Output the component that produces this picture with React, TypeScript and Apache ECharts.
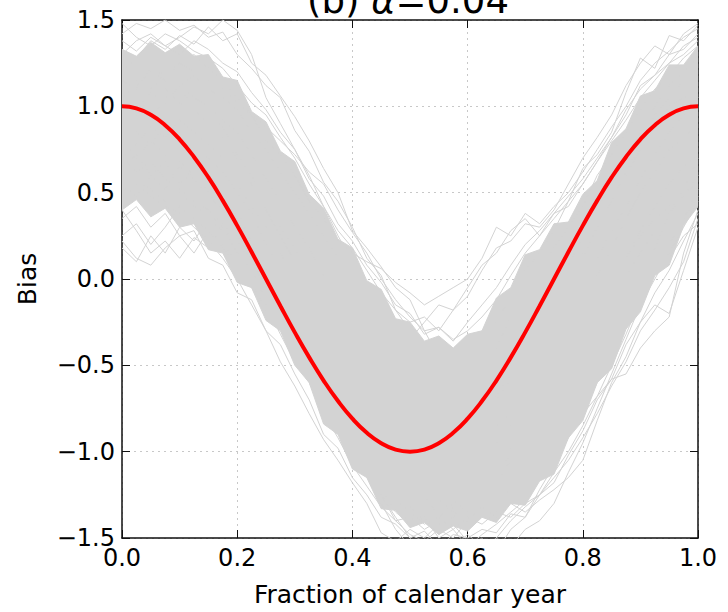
import React, { useEffect, useRef } from "react";
import * as echarts from "echarts";

// x positions shared by all curves (fraction of calendar year)
const xs = [0, 0.025, 0.05, 0.075, 0.1, 0.125, 0.15, 0.175, 0.2, 0.225, 0.25, 0.275, 0.3, 0.325, 0.35, 0.375, 0.4, 0.425, 0.45, 0.475, 0.5, 0.525, 0.55, 0.575, 0.6, 0.625, 0.65, 0.675, 0.7, 0.725, 0.75, 0.775, 0.8, 0.825, 0.85, 0.875, 0.9, 0.925, 0.95, 0.975, 1.0];

// true bias curve (red)
const trueBias = [1.0, 0.988, 0.951, 0.891, 0.809, 0.707, 0.588, 0.454, 0.309, 0.156, 0.0, -0.156, -0.309, -0.454, -0.588, -0.707, -0.809, -0.891, -0.951, -0.988, -1.0, -0.988, -0.951, -0.891, -0.809, -0.707, -0.588, -0.454, -0.309, -0.156, 0.0, 0.156, 0.309, 0.454, 0.588, 0.707, 0.809, 0.891, 0.951, 0.988, 1.0];

// dense envelope of the simulated curves
const bandLower = [0.40, 0.46, 0.36, 0.41, 0.30, 0.32, 0.17, 0.15, -0.02, -0.05, -0.24, -0.30, -0.50, -0.60, -0.84, -0.90, -1.10, -1.15, -1.33, -1.34, -1.44, -1.41, -1.48, -1.43, -1.46, -1.38, -1.41, -1.30, -1.31, -1.17, -1.13, -0.92, -0.82, -0.60, -0.52, -0.29, -0.19, 0.02, 0.08, 0.31, 0.42];
const bandUpper = [1.33, 1.29, 1.37, 1.31, 1.36, 1.29, 1.30, 1.17, 1.15, 0.97, 0.91, 0.74, 0.68, 0.49, 0.41, 0.23, 0.18, -0.01, -0.06, -0.23, -0.25, -0.36, -0.33, -0.40, -0.32, -0.30, -0.11, -0.05, 0.14, 0.17, 0.32, 0.33, 0.49, 0.57, 0.79, 0.87, 1.06, 1.09, 1.24, 1.24, 1.35];

// individual simulated curves
const simA = [1.42, 1.48, 1.45, 1.50, 1.44, 1.47, 1.40, 1.43, 1.30, 1.22, 1.12, 1.05, 0.86, 0.74, 0.56, 0.45, 0.30, 0.12, 0.02, -0.18, -0.30, -0.42, -0.50, -0.62, -0.55, -0.48, -0.40, -0.22, -0.10, 0.05, 0.18, 0.30, 0.42, 0.60, 0.72, 0.85, 0.98, 1.10, 1.18, 1.28, 1.35];
const simB = [1.20, 1.28, 1.38, 1.33, 1.41, 1.36, 1.46, 1.38, 1.42, 1.25, 1.18, 1.06, 0.94, 0.80, 0.64, 0.50, 0.28, 0.18, 0.07, -0.05, -0.12, -0.30, -0.45, -0.52, -0.60, -0.70, -0.62, -0.55, -0.40, -0.30, -0.15, -0.05, 0.12, 0.30, 0.45, 0.62, 0.78, 0.95, 1.05, 1.15, 1.22];
const simC = [0.18, 0.10, 0.25, 0.15, 0.30, 0.22, 0.35, 0.28, 0.40, 0.20, 0.05, -0.10, -0.20, -0.42, -0.58, -0.75, -0.88, -1.02, -1.18, -1.22, -1.30, -1.25, -1.38, -1.30, -1.22, -1.15, -1.05, -0.98, -0.85, -0.72, -0.60, -0.48, -0.30, -0.18, -0.02, 0.12, 0.25, 0.35, 0.42, 0.50, 0.55];
const simD = [0.40, 0.28, 0.15, 0.22, 0.12, 0.24, 0.18, 0.30, 0.20, 0.12, -0.05, -0.22, -0.40, -0.55, -0.70, -0.88, -1.00, -1.15, -1.25, -1.40, -1.48, -1.52, -1.45, -1.50, -1.40, -1.32, -1.25, -1.30, -1.20, -1.10, -0.95, -0.82, -0.65, -0.50, -0.35, -0.22, -0.10, 0.05, 0.20, 0.35, 0.48];
const simE = [0.80, 0.85, 0.78, 0.90, 0.82, 0.75, 0.70, 0.62, 0.50, 0.38, 0.20, 0.05, -0.15, -0.35, -0.55, -0.75, -0.98, -1.12, -1.30, -1.45, -1.55, -1.62, -1.58, -1.65, -1.55, -1.50, -1.58, -1.45, -1.38, -1.22, -1.08, -0.92, -0.78, -0.60, -0.42, -0.20, 0.00, 0.18, 0.38, 0.52, 0.70];
const simF = [0.65, 0.72, 0.60, 0.68, 0.55, 0.62, 0.50, 0.40, 0.32, 0.20, 0.05, -0.10, -0.28, -0.42, -0.60, -0.72, -0.88, -0.98, -1.10, -1.18, -1.25, -1.32, -1.28, -1.35, -1.40, -1.32, -1.38, -1.30, -1.35, -1.28, -1.22, -1.15, -1.05, -0.82, -0.60, -0.45, -0.25, -0.15, -0.20, 0.05, 0.30];
const simG = [1.05, 1.12, 1.20, 1.15, 1.25, 1.30, 1.22, 1.15, 1.05, 0.95, 0.80, 0.72, 0.60, 0.45, 0.35, 0.22, 0.15, 0.10, 0.06, -0.02, -0.08, -0.15, -0.10, -0.05, 0.00, 0.12, 0.30, 0.25, 0.38, 0.32, 0.42, 0.50, 0.62, 0.75, 0.88, 1.00, 1.15, 1.25, 1.32, 1.40, 1.45];
const simH = [0.95, 1.02, 0.92, 1.05, 1.10, 1.00, 0.95, 0.88, 0.72, 0.60, 0.45, 0.30, 0.18, 0.02, -0.12, -0.25, -0.38, -0.50, -0.62, -0.70, -0.78, -0.72, -0.65, -0.60, -0.50, -0.38, -0.25, -0.10, 0.05, 0.15, 0.28, 0.45, 0.64, 0.72, 0.85, 1.08, 1.28, 1.22, 1.41, 1.38, 1.47];
const simI = [0.55, 0.48, 0.60, 0.52, 0.65, 0.58, 0.48, 0.40, 0.25, 0.12, -0.02, -0.18, -0.32, -0.50, -0.65, -0.78, -0.92, -1.05, -1.15, -1.22, -1.32, -1.40, -1.48, -1.42, -1.52, -1.58, -1.50, -1.55, -1.45, -1.40, -1.30, -1.12, -0.95, -0.75, -0.55, -0.35, -0.15, 0.00, 0.15, 0.30, 0.45];
const simJ = [1.30, 1.38, 1.42, 1.35, 1.40, 1.46, 1.42, 1.50, 1.44, 1.30, 1.05, 0.90, 0.75, 0.60, 0.42, 0.25, 0.10, -0.05, -0.20, -0.35, -0.48, -0.58, -0.65, -0.72, -0.80, -0.75, -0.68, -0.55, -0.42, -0.25, -0.10, 0.08, 0.25, 0.40, 0.55, 0.70, 0.85, 1.00, 1.12, 1.20, 1.28];
const simK = [0.60, 0.55, 0.48, 0.42, 0.38, 0.30, 0.22, 0.12, 0.00, -0.15, -0.30, -0.48, -0.62, -0.78, -0.93, -1.05, -1.18, -1.30, -1.47, -1.52, -1.45, -1.50, -1.42, -1.38, -1.30, -1.22, -1.18, -1.05, -0.95, -0.80, -0.68, -0.52, -0.38, -0.20, -0.05, 0.12, 0.28, 0.42, 0.55, 0.65, 0.72];
const simL = [0.75, 0.70, 0.80, 0.72, 0.68, 0.60, 0.55, 0.45, 0.35, 0.22, 0.08, -0.08, -0.22, -0.38, -0.52, -0.68, -0.80, -0.92, -1.02, -1.10, -1.18, -1.25, -1.30, -1.28, -1.35, -1.30, -1.28, -1.22, -1.18, -1.10, -1.02, -0.90, -0.78, -0.68, -0.58, -0.55, -0.40, -0.30, -0.22, 0.15, 0.40];
const simM = [1.00, 0.95, 1.05, 1.10, 1.02, 0.98, 0.90, 0.82, 0.70, 0.55, 0.40, 0.25, 0.10, -0.08, -0.25, -0.40, -0.55, -0.68, -0.80, -0.90, -0.98, -1.02, -1.00, -0.95, -0.88, -0.80, -0.70, -0.58, -0.45, -0.32, -0.15, 0.00, 0.15, 0.30, 0.45, 0.60, 0.75, 0.90, 1.00, 1.05, 1.10];
const simN = [1.15, 1.10, 1.22, 1.18, 1.25, 1.20, 1.15, 1.10, 1.02, 0.95, 0.88, 0.80, 0.72, 0.62, 0.55, 0.40, 0.27, 0.15, 0.00, -0.12, -0.22, -0.30, -0.28, -0.35, -0.30, -0.22, -0.12, 0.02, 0.15, 0.25, 0.35, 0.45, 0.55, 0.68, 0.80, 0.92, 1.05, 1.15, 1.25, 1.30, 1.38];
const simO = [1.38, 1.32, 1.40, 1.35, 1.30, 1.38, 1.33, 1.25, 1.20, 1.08, 0.98, 0.85, 0.75, 0.58, 0.48, 0.32, 0.22, 0.08, -0.02, -0.15, -0.20, -0.32, -0.28, -0.36, -0.25, -0.15, -0.05, 0.08, 0.20, 0.28, 0.38, 0.42, 0.55, 0.68, 0.82, 0.95, 1.12, 1.18, 1.30, 1.33, 1.42];
const simP = [0.35, 0.42, 0.30, 0.38, 0.25, 0.28, 0.12, 0.08, -0.08, -0.12, -0.30, -0.38, -0.55, -0.70, -0.90, -0.98, -1.15, -1.25, -1.38, -1.42, -1.50, -1.46, -1.55, -1.48, -1.50, -1.45, -1.47, -1.36, -1.38, -1.25, -1.18, -1.02, -0.88, -0.70, -0.58, -0.38, -0.25, -0.08, 0.05, 0.22, 0.38];
const simQ = [0.25, 0.32, 0.20, 0.30, 0.42, 0.35, 0.28, 0.18, 0.08, -0.02, -0.18, -0.25, -0.45, -0.52, -0.72, -0.85, -0.95, -1.10, -1.22, -1.35, -1.42, -1.38, -1.50, -1.45, -1.55, -1.48, -1.42, -1.35, -1.28, -1.15, -1.00, -0.90, -0.72, -0.55, -0.40, -0.28, -0.12, 0.05, 0.12, 0.25, 0.32];
const simR = [1.48, 1.40, 1.35, 1.42, 1.38, 1.32, 1.28, 1.22, 1.12, 1.02, 0.95, 0.82, 0.70, 0.55, 0.42, 0.28, 0.18, 0.05, -0.08, -0.18, -0.25, -0.22, -0.30, -0.18, -0.10, 0.05, 0.18, 0.22, 0.32, 0.30, 0.40, 0.55, 0.70, 0.82, 0.95, 1.12, 1.25, 1.35, 1.30, 1.42, 1.48];
const simS = [0.70, 0.78, 0.88, 0.82, 0.92, 0.85, 0.78, 0.70, 0.55, 0.42, 0.30, 0.15, 0.00, -0.18, -0.32, -0.50, -0.62, -0.78, -0.90, -1.02, -1.12, -1.18, -1.15, -1.22, -1.10, -1.05, -0.95, -0.85, -0.72, -0.58, -0.42, -0.28, -0.12, 0.02, 0.18, 0.35, 0.50, 0.62, 0.75, 0.82, 0.90];
const simT = [0.50, 0.58, 0.52, 0.45, 0.50, 0.42, 0.38, 0.30, 0.15, 0.05, -0.12, -0.25, -0.40, -0.55, -0.72, -0.85, -0.98, -1.08, -1.20, -1.28, -1.35, -1.42, -1.38, -1.45, -1.38, -1.42, -1.35, -1.38, -1.30, -1.25, -1.15, -1.05, -0.92, -0.78, -0.62, -0.48, -0.30, -0.18, -0.05, 0.10, 0.35];
const simU = [0.90, 0.98, 1.08, 1.02, 1.12, 1.18, 1.10, 1.05, 0.98, 0.85, 0.75, 0.62, 0.50, 0.38, 0.25, 0.12, 0.00, -0.12, -0.22, -0.30, -0.35, -0.25, -0.15, -0.18, -0.05, 0.08, 0.15, 0.28, 0.35, 0.25, 0.38, 0.48, 0.58, 0.70, 0.82, 0.98, 1.10, 1.18, 1.25, 1.35, 1.40];
const simV = [0.22, 0.12, 0.08, 0.18, 0.25, 0.15, 0.28, 0.20, 0.10, -0.05, -0.15, -0.32, -0.48, -0.60, -0.78, -0.92, -1.08, -1.20, -1.32, -1.40, -1.38, -1.45, -1.40, -1.32, -1.28, -1.20, -1.12, -1.02, -0.92, -0.80, -0.65, -0.52, -0.40, -0.25, -0.12, 0.02, 0.15, 0.28, 0.38, 0.48, 0.60];
const simW = [1.20, 1.15, 1.10, 1.18, 1.12, 1.05, 1.00, 0.92, 0.85, 0.72, 0.58, 0.45, 0.30, 0.18, 0.02, -0.12, -0.28, -0.40, -0.55, -0.65, -0.72, -0.80, -0.85, -0.90, -0.95, -0.92, -0.85, -0.78, -0.65, -0.50, -0.38, -0.20, -0.05, 0.12, 0.28, 0.42, 0.58, 0.72, 0.85, 0.95, 1.05];
const simX = [0.70, 0.62, 0.68, 0.58, 0.52, 0.45, 0.40, 0.32, 0.22, 0.10, -0.05, -0.20, -0.35, -0.52, -0.68, -0.82, -0.95, -1.10, -1.25, -1.38, -1.50, -1.58, -1.62, -1.55, -1.48, -1.55, -1.50, -1.40, -1.32, -1.25, -1.12, -1.00, -0.85, -0.68, -0.50, -0.32, -0.12, 0.05, 0.20, 0.35, 0.52];

const simulations = [simA, simB, simC, simD, simE, simF, simG, simH, simI, simJ, simK, simL, simM, simN, simO, simP, simQ, simR, simS, simT, simU, simV, simW, simX];

const FONT = "DejaVu Sans";
const GRAY = "#d3d3d3";

const fmtY = (v: number) => v.toFixed(1).replace("-", "\u2212");
const fmtX = (v: number) => v.toFixed(1);

export default function App() {
  const ref = useRef<HTMLDivElement>(null);

  useEffect(() => {
    if (!ref.current) return;
    const chart = echarts.init(ref.current, undefined, { renderer: "svg" });

    const pair = (ys: number[]) => xs.map((x, i) => [x, ys[i]]);

    const commonX = { type: "value" as const, min: 0, max: 1, interval: 0.2 };
    const commonY = { type: "value" as const, min: -1.5, max: 1.5, interval: 0.5 };
    const spine = { show: true, onZero: false, lineStyle: { color: "#111", width: 1.5 } };
    const ticks = { show: true, inside: true, length: 8, lineStyle: { color: "#111", width: 1 } };
    const grid = { show: true, lineStyle: { color: "#c8c8c8", type: [2, 4], width: 1 } };

    const option: any = {
      animation: false,
      backgroundColor: "#ffffff",
      grid: { left: 122, right: 30, top: 20, bottom: 74, containLabel: false },
      graphic: [
        {
          type: "text",
          x: 408,
          y: 0,
          style: {
            text: "(b) {i|\u03b1}=0.04",
            fontFamily: FONT,
            fontSize: 37,
            fill: "#000",
            textAlign: "center",
            textVerticalAlign: "middle",
            rich: {
              i: { fontFamily: FONT, fontSize: 37, fontStyle: "italic", fill: "#000" },
            },
          },
          z: 100,
        },
      ],
      xAxis: [
        {
          ...commonX,
          position: "bottom",
          name: "Fraction of calendar year",
          nameLocation: "middle",
          nameGap: 44,
          nameTextStyle: { fontFamily: FONT, fontSize: 25, color: "#000" },
          axisLine: spine,
          axisTick: ticks,
          axisLabel: { formatter: fmtX, fontFamily: FONT, fontSize: 24, color: "#000", margin: 8, showMinLabel: true, showMaxLabel: true },
          splitLine: grid,
        },
        {
          ...commonX,
          position: "top",
          axisLine: spine,
          axisTick: ticks,
          axisLabel: { show: false },
          splitLine: { show: false },
        },
      ],
      yAxis: [
        {
          ...commonY,
          position: "left",
          name: "Bias",
          nameLocation: "middle",
          nameGap: 82,
          nameTextStyle: { fontFamily: FONT, fontSize: 25, color: "#000" },
          axisLine: spine,
          axisTick: ticks,
          axisLabel: { formatter: fmtY, fontFamily: FONT, fontSize: 24, color: "#000", margin: 7, showMinLabel: true, showMaxLabel: true },
          splitLine: grid,
        },
        {
          ...commonY,
          position: "right",
          axisLine: spine,
          axisTick: ticks,
          axisLabel: { show: false },
          splitLine: { show: false },
        },
      ],
      series: [
        {
          type: "custom",
          name: "envelope",
          xAxisIndex: 0,
          yAxisIndex: 0,
          silent: true,
          clip: true,
          z: 1,
          data: [[0, 0]],
          renderItem: (_params: any, api: any) => {
            const pts: number[][] = [];
            for (let i = 0; i < xs.length; i++) pts.push(api.coord([xs[i], bandUpper[i]]));
            for (let i = xs.length - 1; i >= 0; i--) pts.push(api.coord([xs[i], bandLower[i]]));
            return {
              type: "polygon",
              shape: { points: pts },
              style: { fill: GRAY, stroke: GRAY, lineWidth: 1 },
            };
          },
        },
        ...simulations.map((s, k) => ({
          type: "line",
          name: "sim" + k,
          xAxisIndex: 0,
          yAxisIndex: 0,
          data: pair(s),
          showSymbol: false,
          symbol: "none",
          silent: true,
          clip: true,
          z: 2,
          lineStyle: { color: GRAY, width: 1 },
        })),
        {
          type: "line",
          name: "true",
          xAxisIndex: 0,
          yAxisIndex: 0,
          data: pair(trueBias),
          smooth: true,
          showSymbol: false,
          symbol: "none",
          silent: true,
          clip: true,
          z: 5,
          lineStyle: { color: "#ff0000", width: 4 },
        },
      ],
    };

    chart.setOption(option);
    return () => chart.dispose();
  }, []);

  return <div ref={ref} style={{ width: 728, height: 612, position: "absolute", left: 0, top: 0 }} />;
}
